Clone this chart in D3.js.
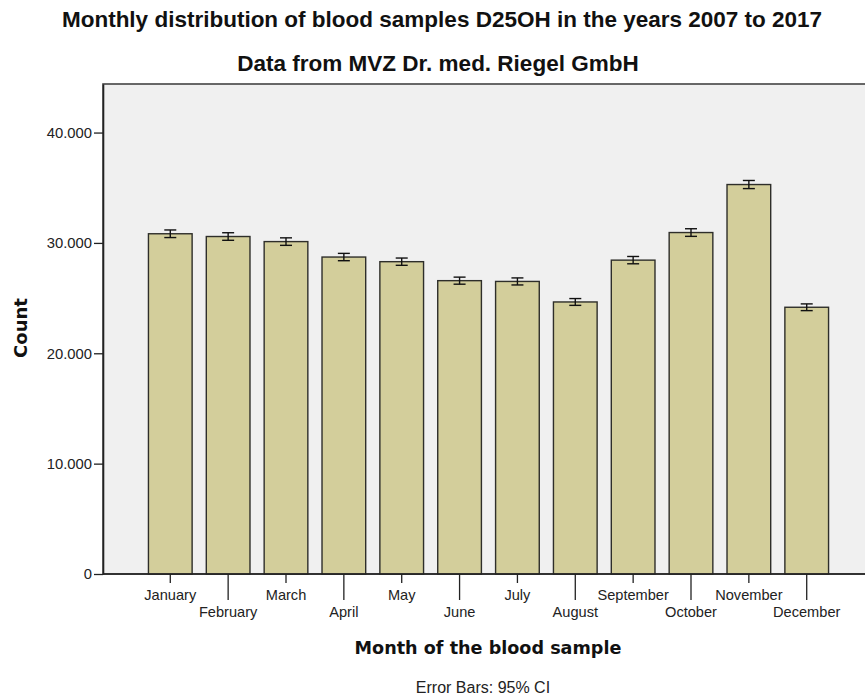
<!DOCTYPE html>
<html>
<head>
<meta charset="utf-8">
<script src="https://cdn.jsdelivr.net/npm/d3@7/dist/d3.min.js"></script>
<style>
  html, body { margin: 0; padding: 0; background: #ffffff; }
  svg { display: block; }
</style>
</head>
<body>
<svg id="chart" width="865" height="698"></svg>
<script>
// Monthly counts of D25OH blood samples, 2007–2017
const months = ["January", "February", "March", "April", "May", "June",
                "July", "August", "September", "October", "November", "December"];
const counts = [30830, 30580, 30120, 28720, 28300, 26580, 26510, 24650, 28440, 30940, 35290, 24170];
// 95% confidence interval bounds
const ciLower = [30486, 30237, 29780, 28388, 27970, 26260, 26191, 24342, 28109, 30595, 34922, 23865];
const ciUpper = [31174, 30923, 30460, 29052, 28630, 26900, 26829, 24958, 28771, 31285, 35658, 24475];
const yTicks = [0, 10000, 20000, 30000, 40000];

const svg = d3.select("#chart");
const plot = { left: 103, top: 84, right: 870, bottom: 574 };
const sans = "'Liberation Sans', Arial, sans-serif";
const heavy = "'DejaVu Sans', Verdana, sans-serif";

const x = d3.scaleBand()
  .domain(months)
  .range([141.5, 835.5])
  .paddingInner(0.245)
  .paddingOuter(0.12);

const y = d3.scaleLinear()
  .domain([0, 44400])
  .range([plot.bottom, plot.top]);

const fmt = v => v === 0 ? "0" : d3.format(",")(v).replace(/,/g, ".");

// plot background
svg.append("rect")
  .attr("x", plot.left).attr("y", plot.top)
  .attr("width", plot.right - plot.left).attr("height", plot.bottom - plot.top)
  .attr("fill", "#f0f0f0")
  .attr("stroke", "#444").attr("stroke-width", 1.6);

// bars
svg.append("g").selectAll("rect").data(months).join("rect")
  .attr("x", d => x(d))
  .attr("y", (d, i) => y(counts[i]))
  .attr("width", x.bandwidth())
  .attr("height", (d, i) => y(0) - y(counts[i]))
  .attr("fill", "#d3ce9b")
  .attr("stroke", "#2e2e2a").attr("stroke-width", 1.4);

// error bars
const eb = svg.append("g").attr("stroke", "#111").attr("stroke-width", 1.4);
months.forEach((m, i) => {
  const cx = x(m) + x.bandwidth() / 2;
  eb.append("line").attr("x1", cx).attr("x2", cx)
    .attr("y1", y(ciLower[i])).attr("y2", y(ciUpper[i]));
  eb.append("line").attr("x1", cx - 6).attr("x2", cx + 6)
    .attr("y1", y(ciLower[i])).attr("y2", y(ciLower[i]));
  eb.append("line").attr("x1", cx - 6).attr("x2", cx + 6)
    .attr("y1", y(ciUpper[i])).attr("y2", y(ciUpper[i]));
});

// y axis
const yAxis = d3.axisLeft(y).tickValues(yTicks).tickFormat(fmt).tickSize(9).tickSizeOuter(0);
const gy = svg.append("g").attr("transform", `translate(${plot.left},0)`).call(yAxis);
gy.select(".domain").attr("stroke", "#222").attr("stroke-width", 1.6);
gy.selectAll(".tick line").attr("stroke", "#222").attr("stroke-width", 1.3);
gy.selectAll(".tick text")
  .attr("font-family", sans)
  .attr("font-size", 14.8).attr("fill", "#222").attr("x", -11);

// x axis: alternating short / long ticks
const gx = svg.append("g").attr("transform", `translate(0,${plot.bottom})`);
gx.append("line").attr("x1", plot.left).attr("x2", plot.right)
  .attr("stroke", "#222").attr("stroke-width", 1.6);
months.forEach((m, i) => {
  const cx = x(m) + x.bandwidth() / 2;
  const long = i % 2 === 1;
  gx.append("line").attr("x1", cx).attr("x2", cx)
    .attr("y1", 0).attr("y2", long ? 26 : 9)
    .attr("stroke", "#222").attr("stroke-width", 1.3);
  gx.append("text").attr("x", cx).attr("y", long ? 43 : 25.5)
    .attr("text-anchor", "middle")
    .attr("font-family", sans)
    .attr("font-size", 14.6).attr("fill", "#222")
    .text(m);
});

// titles
svg.append("text").attr("x", 442).attr("y", 27).attr("text-anchor", "middle")
  .attr("font-family", sans)
  .attr("font-size", 22.5).attr("font-weight", "bold").attr("fill", "#111")
  .text("Monthly distribution of blood samples D25OH in the years 2007 to 2017");
svg.append("text").attr("x", 438).attr("y", 71).attr("text-anchor", "middle")
  .attr("font-family", sans)
  .attr("font-size", 22.5).attr("font-weight", "bold").attr("fill", "#111")
  .text("Data from MVZ Dr. med. Riegel GmbH");

// axis titles
svg.append("text").attr("x", 488).attr("y", 654).attr("text-anchor", "middle")
  .attr("font-family", heavy)
  .attr("font-size", 17.6).attr("font-weight", "bold").attr("fill", "#111")
  .text("Month of the blood sample");
svg.append("text")
  .attr("transform", "translate(27,328) rotate(-90)")
  .attr("text-anchor", "middle")
  .attr("font-family", heavy)
  .attr("font-size", 18).attr("font-weight", "bold").attr("fill", "#111")
  .text("Count");

// footnote
svg.append("text").attr("x", 483).attr("y", 693).attr("text-anchor", "middle")
  .attr("font-family", sans)
  .attr("font-size", 16).attr("fill", "#222")
  .text("Error Bars: 95% CI");
</script>
</body>
</html>
